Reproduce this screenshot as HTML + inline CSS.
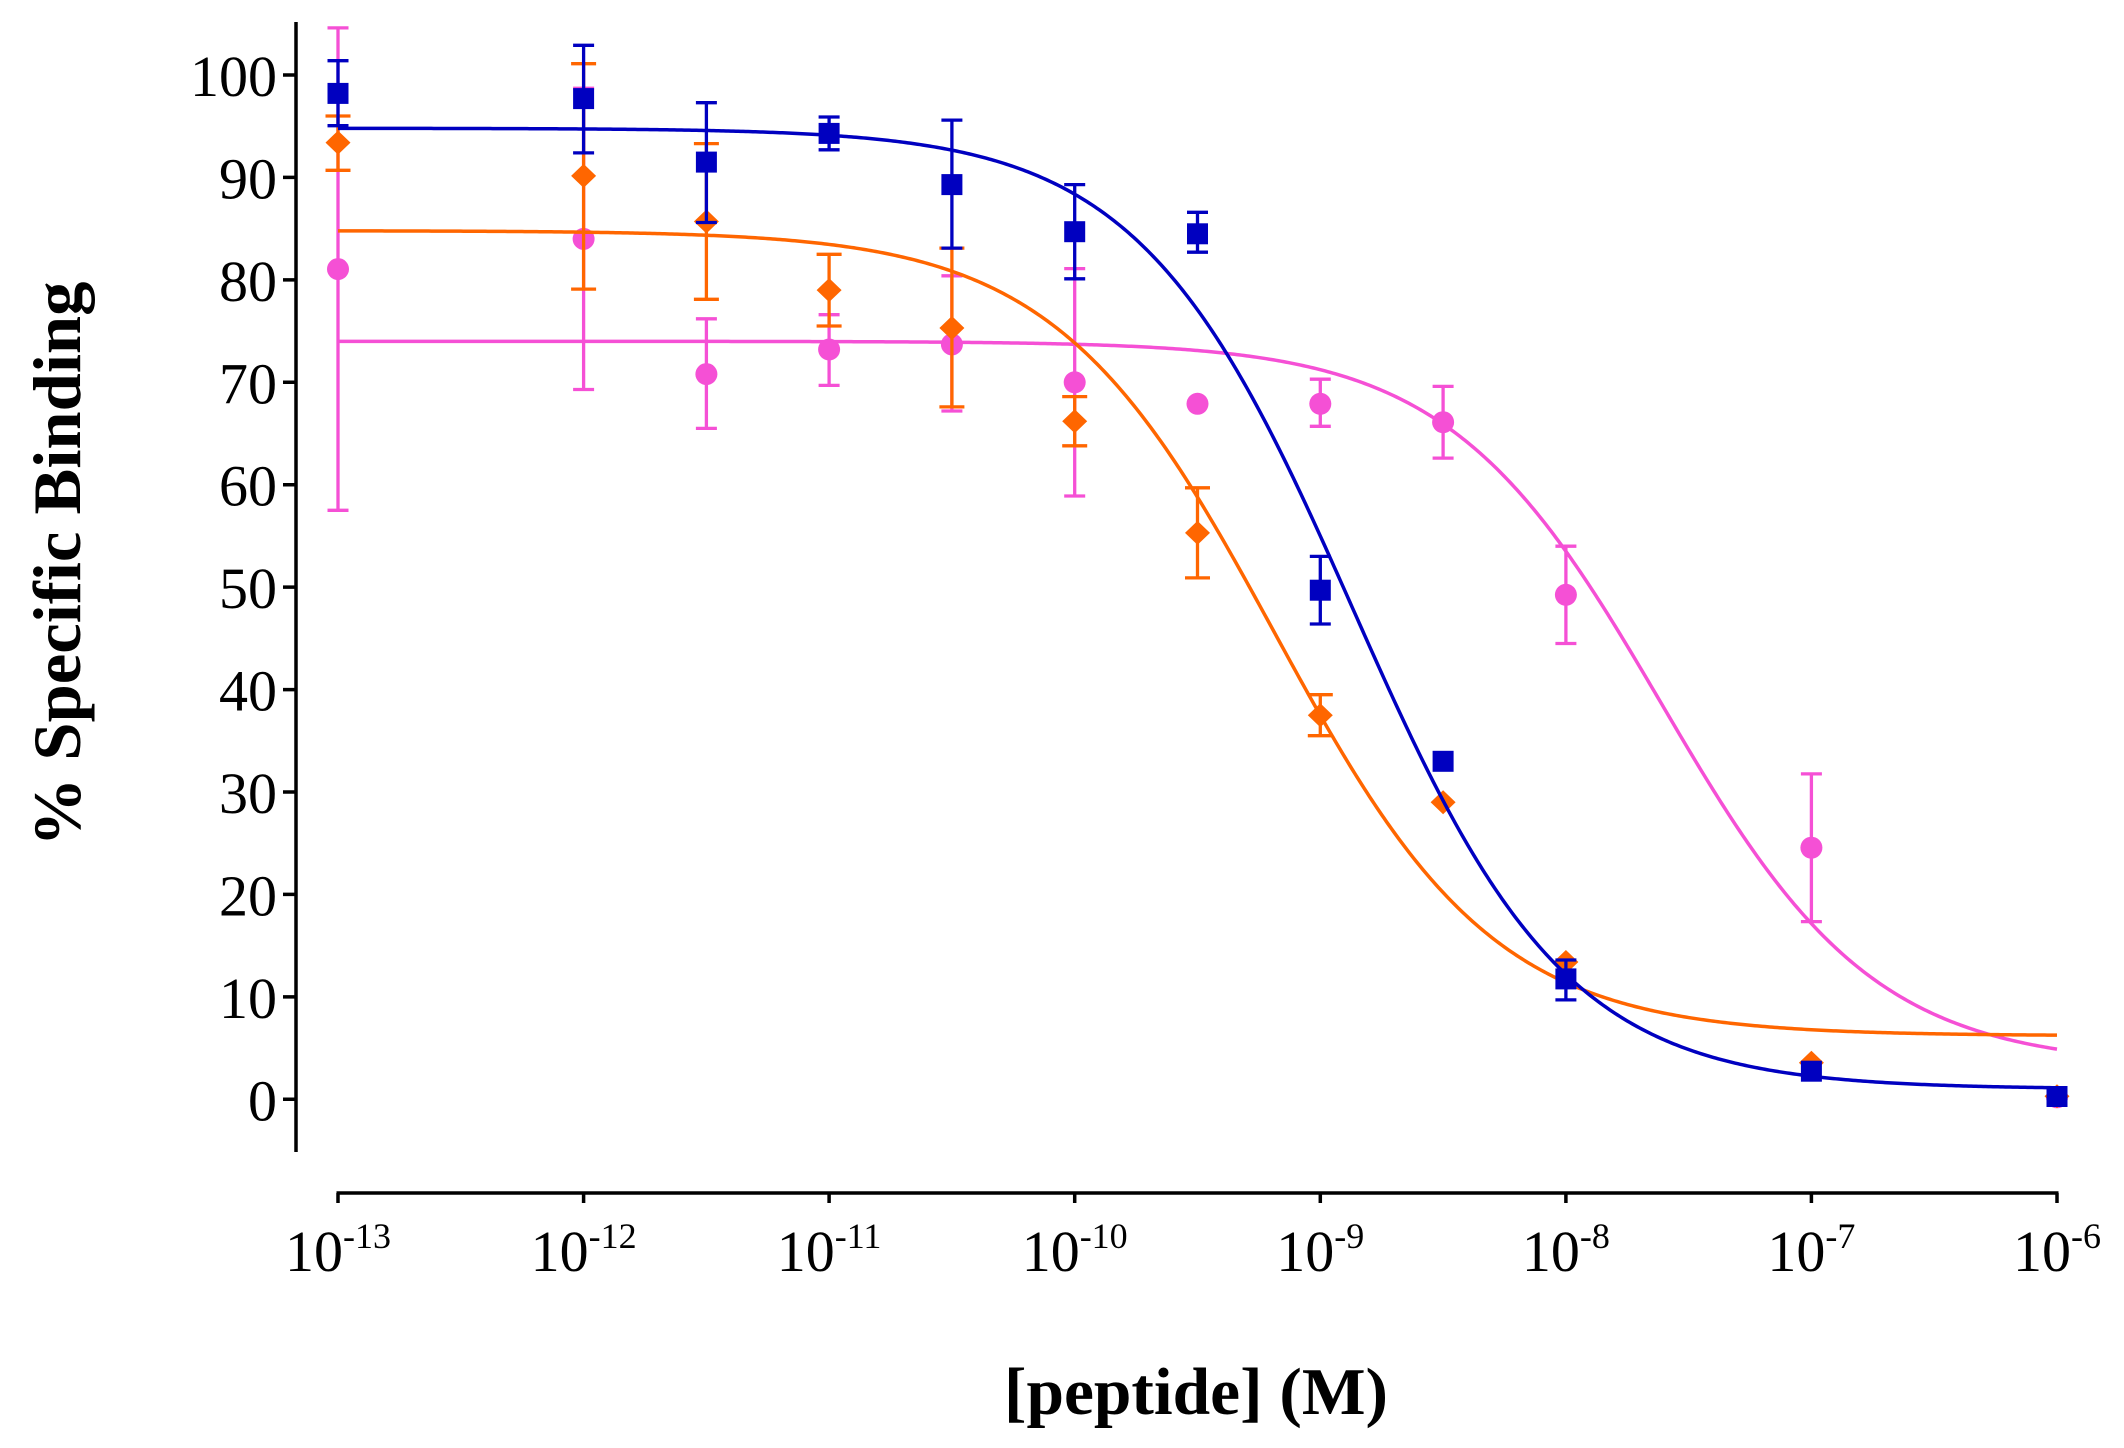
<!DOCTYPE html>
<html><head><meta charset="utf-8"><style>
html,body{margin:0;padding:0;background:#fff;}
svg{display:block;}
text{font-family:"Liberation Serif","Times New Roman",serif;fill:#000;}
</style></head><body>
<svg width="2124" height="1448" viewBox="0 0 2124 1448" xmlns="http://www.w3.org/2000/svg">
<rect width="2124" height="1448" fill="#fff"/>
<!-- axes -->
<g stroke="#000" stroke-width="3.5" fill="none">
<path d="M296 22V1152"/>
<path d="M283 1099.3H296M283 996.9H296M283 894.4H296M283 792H296M283 689.6H296M283 587.1H296M283 484.7H296M283 382.3H296M283 279.9H296M283 177.4H296M283 75H296"/>
<path d="M336.5 1193H2058.5"/>
<path d="M338 1193V1203M583.6 1193V1203M829.1 1193V1203M1074.7 1193V1203M1320.3 1193V1203M1565.9 1193V1203M1811.4 1193V1203M2057 1193V1203"/>
</g>
<g font-size="58" text-anchor="end">
<text x="277" y="1120.3">0</text>
<text x="277" y="1017.9">10</text>
<text x="277" y="915.4">20</text>
<text x="277" y="813">30</text>
<text x="277" y="710.6">40</text>
<text x="277" y="608.1">50</text>
<text x="277" y="505.7">60</text>
<text x="277" y="403.3">70</text>
<text x="277" y="300.9">80</text>
<text x="277" y="198.4">90</text>
<text x="277" y="96">100</text>
</g>
<g font-size="58" text-anchor="middle">
<text x="338" y="1271">10<tspan font-size="36" dy="-23">-13</tspan></text>
<text x="583.6" y="1271">10<tspan font-size="36" dy="-23">-12</tspan></text>
<text x="829.1" y="1271">10<tspan font-size="36" dy="-23">-11</tspan></text>
<text x="1074.7" y="1271">10<tspan font-size="36" dy="-23">-10</tspan></text>
<text x="1320.3" y="1271">10<tspan font-size="36" dy="-23">-9</tspan></text>
<text x="1565.9" y="1271">10<tspan font-size="36" dy="-23">-8</tspan></text>
<text x="1811.4" y="1271">10<tspan font-size="36" dy="-23">-7</tspan></text>
<text x="2057" y="1271">10<tspan font-size="36" dy="-23">-6</tspan></text>
</g>
<text x="1196" y="1414" font-size="67" font-weight="bold" text-anchor="middle" textLength="384" lengthAdjust="spacingAndGlyphs">[peptide] (M)</text>
<text transform="translate(80,564) rotate(-90)" x="0" y="0" font-size="68" font-weight="bold" text-anchor="middle" textLength="565" lengthAdjust="spacingAndGlyphs">% Specific Binding</text>

<!-- PINK -->
<polyline id="cp" stroke="#f550d5" fill="none" stroke-width="3.5" stroke-linejoin="round" points="338,341.3 583.6,341.3 829.1,341.6 951.9,342.2 1074.7,344.3 1136.1,346.5 1197.5,350.5 1258.9,357.6 1320.3,369.7 1381.7,390.3 1443.1,424.1 1473.8,447.6 1504.5,476.5 1535.2,511 1565.9,551.2 1596.6,596.6 1627.2,645.9 1657.9,697.7 1688.6,749.6 1719.3,799.7 1750,846.2 1780.7,887.7 1811.4,923.6 1842.1,953.8 1872.8,978.5 1934.2,1014.3 1995.6,1036.2 2057,1049.1"/>
<path stroke="#f550d5" stroke-width="3.3" fill="none" d="M338 510.3V27.9M327.5 510.3h21M327.5 27.9h21M583.6 389.5V88.3M573.1 389.5h21M573.1 88.3h21M706.4 428.4V318.8M695.9 428.4h21M695.9 318.8h21M829.1 385.4V314.7M818.6 385.4h21M818.6 314.7h21M951.9 411V275.8M941.4 411h21M941.4 275.8h21M1074.7 496V268.6M1064.2 496h21M1064.2 268.6h21M1320.3 426.3V379.2M1309.8 426.3h21M1309.8 379.2h21M1443.1 458.1V386.4M1432.6 458.1h21M1432.6 386.4h21M1565.9 643.5V546.2M1555.4 643.5h21M1555.4 546.2h21M1811.4 921.6V773.9M1800.9 921.6h21M1800.9 773.9h21"/>
<g fill="#f550d5">
<circle cx="338" cy="269.1" r="11"/>
<circle cx="583.6" cy="238.9" r="11"/>
<circle cx="706.4" cy="374.1" r="11"/>
<circle cx="829.1" cy="349.5" r="11"/>
<circle cx="951.9" cy="344.4" r="11"/>
<circle cx="1074.7" cy="382.3" r="11"/>
<circle cx="1197.5" cy="403.8" r="11"/>
<circle cx="1320.3" cy="403.8" r="11"/>
<circle cx="1443.1" cy="422.2" r="11"/>
<circle cx="1565.9" cy="594.8" r="11"/>
<circle cx="1811.4" cy="847.7" r="11"/>
<circle cx="2057" cy="1097.3" r="11"/>
</g>

<!-- ORANGE -->
<polyline id="co" stroke="#ff6600" fill="none" stroke-width="3.5" stroke-linejoin="round" points="338,230.9 583.6,232.2 706.4,235.2 829.1,244.4 890.5,254.4 951.9,271.3 1013.3,299 1074.7,343 1105.4,372.7 1136.1,408.3 1166.8,449.9 1197.5,497.2 1228.2,549.1 1258.9,604.1 1289.6,660.2 1320.3,715.3 1351,767.2 1381.7,814.8 1412.4,856.6 1443.1,892.5 1473.8,922.5 1504.5,947.1 1535.2,966.8 1565.9,982.5 1627.2,1004.5 1688.6,1017.6 1750,1025.2 1811.4,1029.8 1872.8,1032.3 1934.2,1033.9 1995.6,1034.7 2057,1035.2"/>
<path stroke="#ff6600" stroke-width="3.3" fill="none" d="M338 170.3V116M325.5 170.3h25M325.5 116h25M583.6 289.1V63.7M571.1 289.1h25M571.1 63.7h25M706.4 299.3V143.6M693.9 299.3h25M693.9 143.6h25M829.1 326V254.3M816.6 326h25M816.6 254.3h25M951.9 406.9V248.1M939.4 406.9h25M939.4 248.1h25M1074.7 445.8V396.6M1062.2 445.8h25M1062.2 396.6h25M1197.5 577.9V487.8M1185 577.9h25M1185 487.8h25M1320.3 735.7V694.7M1307.8 735.7h25M1307.8 694.7h25"/>
<path fill="#ff6600" d="M338 130.6l12.5 12-12.5 12-12.5-12zM583.6 163.9l12.5 12-12.5 12-12.5-12zM706.4 209.5l12.5 12-12.5 12-12.5-12zM829.1 278.1l12.5 12-12.5 12-12.5-12zM951.9 316l12.5 12-12.5 12-12.5-12zM1074.7 409.2l12.5 12-12.5 12-12.5-12zM1197.5 520.9l12.5 12-12.5 12-12.5-12zM1320.3 703.2l12.5 12-12.5 12-12.5-12zM1443.1 790.3l12.5 12-12.5 12-12.5-12zM1565.9 950l12.5 12-12.5 12-12.5-12zM1811.4 1050.8l12.5 12-12.5 12-12.5-12zM2057 1084.2l12.5 12-12.5 12-12.5-12z"/>

<!-- BLUE -->
<polyline id="cb" stroke="#0000c0" fill="none" stroke-width="3.5" stroke-linejoin="round" points="338,128.4 583.6,129 706.4,130.5 829.1,135.3 890.5,140.7 951.9,150.2 1013.3,166.5 1074.7,194.2 1105.4,214.2 1136.1,239.6 1166.8,271.3 1197.5,309.9 1228.2,356.1 1258.9,409.8 1289.6,470.3 1320.3,535.9 1351,604.6 1381.7,673.3 1412.4,739.5 1443.1,800.6 1473.8,855.2 1504.5,902.3 1535.2,941.9 1565.9,974.2 1596.6,1000.4 1627.2,1020.9 1657.9,1037 1688.6,1049.5 1750,1066.4 1811.4,1076.2 1872.8,1081.8 1934.2,1085 1995.6,1086.7 2057,1087.7"/>
<path stroke="#0000c0" stroke-width="3.3" fill="none" d="M338 125.7V60.7M327.5 125.7h21M327.5 60.7h21M583.6 152.9V45.3M573.1 152.9h21M573.1 45.3h21M706.4 222.5V102.7M695.9 222.5h21M695.9 102.7h21M829.1 149.8V117M818.6 149.8h21M818.6 117h21M951.9 248.1V120.1M941.4 248.1h21M941.4 120.1h21M1074.7 278.8V184.6M1064.2 278.8h21M1064.2 184.6h21M1197.5 252.2V212.3M1187 252.2h21M1187 212.3h21M1320.3 624V556.4M1309.8 624h21M1309.8 556.4h21M1565.9 999.9V960M1555.4 999.9h21M1555.4 960h21"/>
<g fill="#0000c0">
<rect x="327.5" y="82.9" width="21" height="21"/>
<rect x="573.1" y="88.1" width="21" height="21"/>
<rect x="695.9" y="151.6" width="21" height="21"/>
<rect x="818.6" y="122.9" width="21" height="21"/>
<rect x="941.4" y="174.1" width="21" height="21"/>
<rect x="1064.2" y="221.2" width="21" height="21"/>
<rect x="1187" y="223.3" width="21" height="21"/>
<rect x="1309.8" y="579.7" width="21" height="21"/>
<rect x="1432.6" y="750.8" width="21" height="21"/>
<rect x="1555.4" y="968.4" width="21" height="21"/>
<rect x="1800.9" y="1060.7" width="21" height="21"/>
<rect x="2046.5" y="1086" width="21" height="21"/>
</g>
</svg>
<script>
(function(){
  function X(d){return 338+(d+13)*245.57;}
  function Y(v){return 1099.3-10.243*v;}
  function build(id,T,B,h,c){
    var el=document.getElementById(id); if(!el) return;
    var pts=[];
    for(var i=0;i<=700;i++){
      var d=-13+i*0.01;
      var v=B+(T-B)/(1+Math.pow(10,h*(d-c)));
      pts.push(X(d).toFixed(2)+","+Y(v).toFixed(2));
    }
    el.setAttribute("points",pts.join(" "));
  }
  try{
    build("cp",74.0,3.2,1.0,-7.61);
    build("co",84.8,6.2,0.97,-9.185);
    build("cb",94.8,1.0,1.0,-8.8675);
  }catch(e){}
})();
</script>
</body></html>
